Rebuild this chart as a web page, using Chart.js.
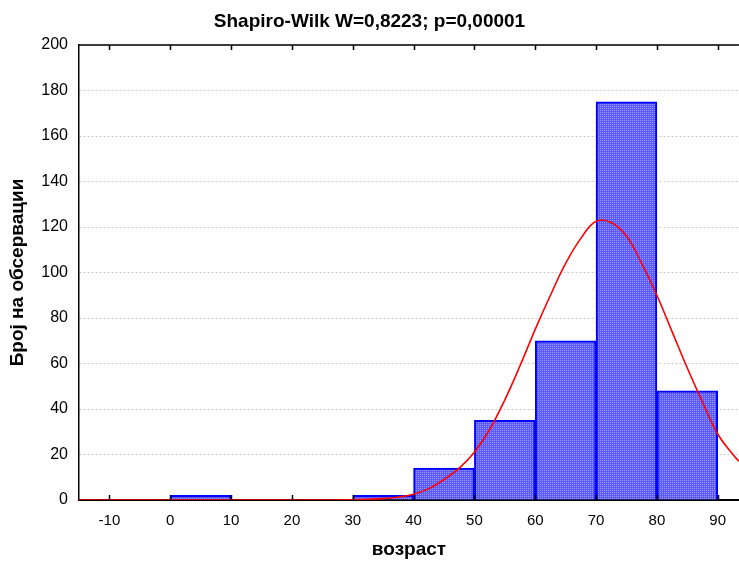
<!DOCTYPE html>
<html>
<head>
    <title>Shapiro-Wilk histogram</title>
    <script src="https://cdn.jsdelivr.net/npm/chart.js"></script>
    <style>
        html, body { margin: 0; padding: 0; background: #fff; }
        #wrap { width: 739px; height: 563px; }
    </style>
</head>
<body>
    <div id="wrap"><canvas id="histChart" width="739" height="563"></canvas></div>

    <script>
        // Histogram bins (lower edge) and observed counts
        const binStarts = [-10, 0, 10, 20, 30, 40, 50, 60, 70, 80];
        const binCounts = [0, 2, 0, 0, 2, 14, 35, 70, 175, 48];
        const binWidth = 10;

        // Fitted normal curve
        const curveX = [-15, 0, 10, 20, 25, 30, 32.5, 35, 37.5, 40, 42.5, 45, 47.5, 50, 52.5, 55, 57.5, 60, 62.5, 65, 67.5, 70, 72.5, 75, 77.5, 80, 82.5, 85, 87.5, 90, 92.5, 93.5];
        const curveY = [0, 0, 0, 0, 0, 0.1, 0.3, 0.6, 1.3, 2.5, 5, 9, 14, 21, 31, 44, 59, 75, 90, 104, 115, 122.5, 122, 116, 104, 90, 74, 58, 43, 29, 20, 17];

        const xTicks = [-10, 0, 10, 20, 30, 40, 50, 60, 70, 80, 90];
        const xMin = -15, xMax = 93.5;
        const yMin = 0, yMax = 200, yStep = 20;

        const titleText = 'Shapiro-Wilk W=0,8223; p=0,00001';
        const xTitle = 'возраст';
        const yTitle = 'Број на обсервации';

        // fine blue dot texture (two shades of the same blue)
        function makePattern() {
            const p = document.createElement('canvas');
            p.width = 2; p.height = 2;
            const c = p.getContext('2d');
            c.fillStyle = '#5a5aff';
            c.fillRect(0, 0, 2, 2);
            c.fillStyle = '#9a9aff';
            c.fillRect(0, 0, 1, 1);
            return document.getElementById('histChart').getContext('2d').createPattern(p, 'repeat');
        }

        const barPoints = binStarts
            .map((s, i) => ({ x: s + binWidth / 2, y: binCounts[i] }))
            .filter(d => d.y > 0);
        const curvePoints = curveX.map((x, i) => ({ x: x, y: curveY[i] }));

        // frame on top + inward tick marks
        const framePlugin = {
            id: 'frame',
            afterDatasetsDraw(chart) {
                const { ctx, chartArea: a, scales: { x } } = chart;
                ctx.save();
                ctx.strokeStyle = '#000';
                ctx.lineWidth = 1.5;
                ctx.beginPath();
                ctx.moveTo(a.left, a.top);
                ctx.lineTo(a.right, a.top);
                xTicks.forEach(v => {
                    const px = Math.round(x.getPixelForValue(v)) + 0.5;
                    ctx.moveTo(px, a.top);
                    ctx.lineTo(px, a.top + 5);
                    ctx.moveTo(px, a.bottom);
                    ctx.lineTo(px, a.bottom - 5);
                });
                ctx.stroke();
                ctx.restore();
            }
        };

        const font = 'Arial, "Liberation Sans", sans-serif';

        new Chart(document.getElementById('histChart'), {
            type: 'bar',
            data: {
                datasets: [
                    {
                        type: 'line',
                        data: curvePoints,
                        borderColor: '#ff0000',
                        borderWidth: 1.6,
                        pointRadius: 0,
                        tension: 0.4,
                        fill: false,
                        order: 0
                    },
                    {
                        type: 'bar',
                        data: barPoints,
                        backgroundColor: makePattern(),
                        borderColor: '#0000ff',
                        borderWidth: 2,
                        borderSkipped: 'bottom',
                        barPercentage: 1,
                        categoryPercentage: 1,
                        order: 1
                    }
                ]
            },
            options: {
                responsive: false,
                animation: false,
                layout: { padding: 0 },
                plugins: {
                    legend: { display: false },
                    tooltip: { enabled: false },
                    title: {
                        display: true,
                        text: titleText,
                        color: '#000',
                        font: { family: font, size: 19, weight: 'bold' },
                        padding: { top: 10.5, bottom: 11.7 }
                    }
                },
                scales: {
                    x: {
                        type: 'linear',
                        min: xMin,
                        max: xMax,
                        offset: false,
                        afterBuildTicks: s => { s.ticks = xTicks.map(v => ({ value: v })); },
                        afterFit: s => { s.height = 63; },
                        grid: { display: false, drawTicks: false },
                        border: { display: true, color: '#000', width: 2 },
                        ticks: {
                            color: '#000',
                            font: { family: font, size: 15 },
                            padding: 12,
                            maxRotation: 0,
                            autoSkip: false
                        },
                        title: {
                            display: true,
                            text: xTitle,
                            color: '#000',
                            font: { family: font, size: 19, weight: 'bold' },
                            padding: { top: 0, bottom: 2 }
                        }
                    },
                    y: {
                        min: yMin,
                        max: yMax,
                        afterFit: s => { s.width = 79; },
                        ticks: {
                            stepSize: yStep,
                            color: '#000',
                            font: { family: font, size: 16 },
                            padding: 11
                        },
                        grid: {
                            color: '#c8c8c8',
                            lineWidth: 1,
                            drawTicks: false
                        },
                        border: { display: true, color: '#000', width: 1.5, dash: [2, 2] },
                        title: {
                            display: true,
                            text: yTitle,
                            color: '#000',
                            font: { family: font, size: 19, weight: 'bold' },
                            padding: { top: 6.5, bottom: 0 }
                        }
                    }
                }
            },
            plugins: [framePlugin]
        });
    </script>
</body>
</html>
